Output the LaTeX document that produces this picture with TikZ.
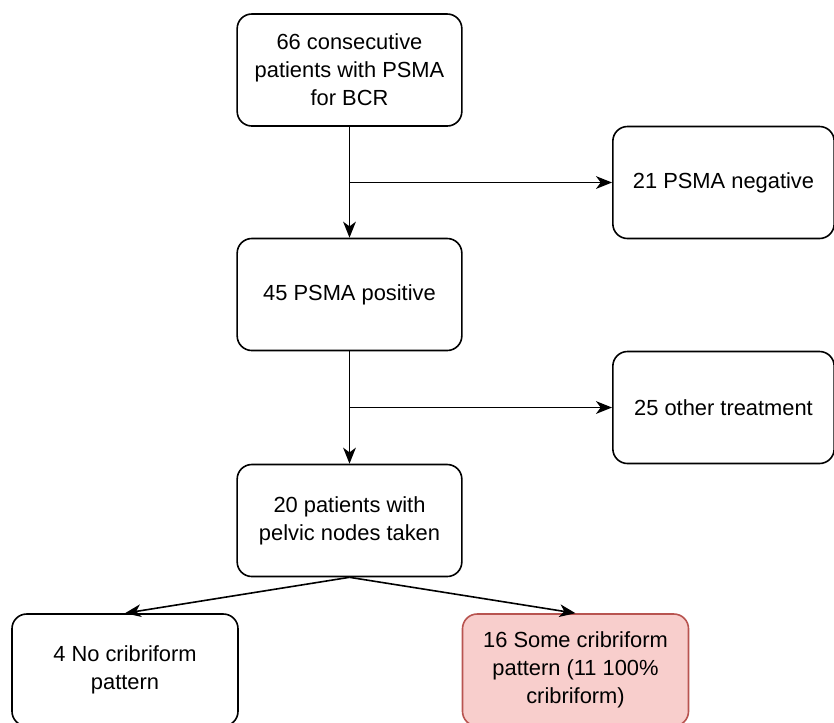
\documentclass[tikz,border=0pt]{standalone}
\usepackage{fontspec}
\setmainfont{Liberation Sans}
\usepackage{tikz}
\usetikzlibrary{shapes, arrows.meta, positioning}
\definecolor{redfill}{HTML}{F8CECC}
\definecolor{redline}{HTML}{B85450}
\tikzstyle{box} = [rectangle, draw, line width=1.2pt, rounded corners=11pt, align=center, minimum width=168.5pt, minimum height=84pt, font=\fontsize{16.4}{21}\selectfont]
\tikzstyle{redbox} = [box, fill=redfill, draw=redline]
\tikzstyle{line} = [draw, line width=1.2pt, -{Stealth[length=12pt, width=9.5pt, inset=3.5pt]}]

\begin{document}
\begin{tikzpicture}[x=0.75pt, y=-0.75pt]
			\useasboundingbox (0,0) rectangle (834,722);
			\clip (0,0) rectangle (834,722);
			\node [box] (start) at (349.5, 70) {66 consecutive\\patients with PSMA\\for BCR};
			\node [box, minimum width=166pt] (neg) at (723.5, 182.5) {21 PSMA negative};
			\node [box] (pos) at (349.5, 294.5) {45 PSMA positive};
			\node [box, minimum width=166pt] (other) at (723.5, 407.5) {25 other treatment};
			\node [box] (pelvic) at (349.5, 520.5) {20 patients with\\pelvic nodes taken};
			\node [box, minimum width=169.5pt] (nocrib) at (125, 670) {4 No cribriform\\pattern};
			\node [redbox, minimum width=169.5pt] (somecrib) at (575.5, 670) {16 Some cribriform\\pattern (11 100\%\\cribriform)};
			
			\coordinate (split1) at (349.5, 182.5);
			\coordinate (split2) at (349.5, 407.5);
			
			\path [line] (start) -- (pos);
			\path [line] (split1) -- (neg);
			\path [line] (pos) -- (pelvic);
			\path [line] (split2) -- (other);
			\path [line] (pelvic.south) -- (nocrib.north);
			\path [line] (pelvic.south) -- (somecrib.north);
		\end{tikzpicture}
\end{document}
